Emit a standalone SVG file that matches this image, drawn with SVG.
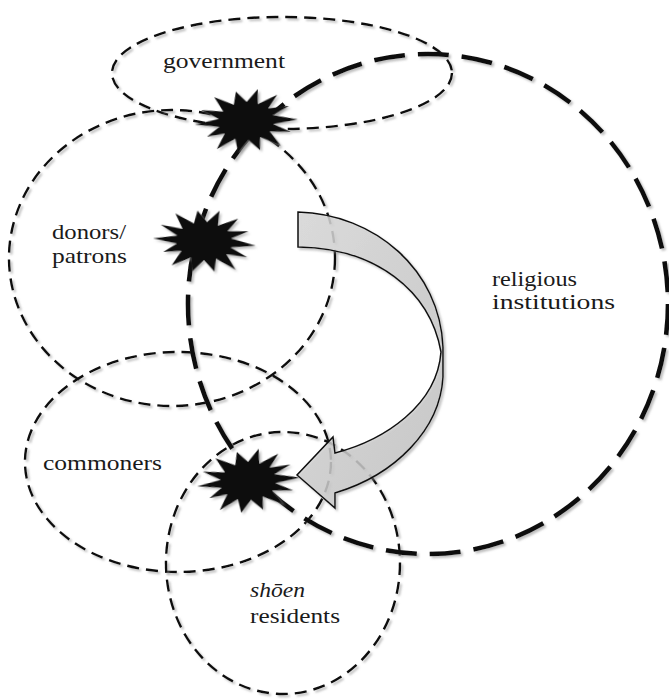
<svg xmlns="http://www.w3.org/2000/svg" width="669" height="699" viewBox="0 0 669 699">
<style>
.thin{fill:none;stroke:#111;stroke-width:2.4;stroke-dasharray:12 7;filter:url(#sh)}
.thick{fill:none;stroke:#111;stroke-width:4.6;stroke-dasharray:31 13;filter:url(#sh)}
.lbl{font-family:"Liberation Serif","Times New Roman",serif;font-size:22px;fill:#1a1a1a}
.star{fill:#111;filter:url(#sh)}
</style>
<defs>
<filter id="sh" x="-10%" y="-10%" width="120%" height="120%">
<feDropShadow dx="2" dy="2" stdDeviation="0.8" flood-color="#888" flood-opacity="0.55"/>
</filter>
<linearGradient id="ag" x1="0" y1="0" x2="1" y2="1">
<stop offset="0" stop-color="#dcdcdc"/>
<stop offset="1" stop-color="#c4c4c4"/>
</linearGradient>
<polygon id="st" points="52,2 27,5 44,14 23,12 33,27 13,17 12,30 1,19 -10,31 -12,17 -31,26 -22,11 -40,13 -27,4 -51,0 -27,-4 -44,-14 -22,-11 -30,-26 -11,-17 -8,-30 2,-19 14,-31 13,-16 33,-24 23,-11 44,-12 27,-4"/>
</defs>
<rect width="669" height="699" fill="#fff"/>
<g id="government">
<ellipse class="thin" cx="282" cy="73" rx="170" ry="56"/>
<text class="lbl" x="163" y="68" textLength="122" lengthAdjust="spacingAndGlyphs">government</text>
</g>
<g id="donors">
<ellipse class="thin" cx="172" cy="258" rx="163" ry="148"/>
<text class="lbl" x="52" y="239" textLength="74" lengthAdjust="spacingAndGlyphs">donors/</text>
<text class="lbl" x="52" y="263" textLength="75" lengthAdjust="spacingAndGlyphs">patrons</text>
</g>
<g id="commoners">
<ellipse class="thin" cx="178" cy="462" rx="153" ry="110"/>
<text class="lbl" x="43" y="470" textLength="119" lengthAdjust="spacingAndGlyphs">commoners</text>
</g>
<g id="shoen">
<ellipse class="thin" cx="283" cy="563" rx="117" ry="131"/>
<text class="lbl" x="250" y="597" font-style="italic" textLength="55" lengthAdjust="spacingAndGlyphs">shōen</text>
<text class="lbl" x="250" y="623" textLength="90" lengthAdjust="spacingAndGlyphs">residents</text>
</g>
<g id="religious">
<ellipse class="thick" cx="428" cy="304" rx="240" ry="250"/>
<text class="lbl" x="492" y="286" textLength="85" lengthAdjust="spacingAndGlyphs">religious</text>
<text class="lbl" x="492" y="309" textLength="123" lengthAdjust="spacingAndGlyphs">institutions</text>
</g>
<g id="connectors">
<path d="M298,212 C375,214 440,270 443,347 L443,377 C440,430 395,475 335,493 L335,508 L297,475 L333,437 L335,453 C385,440 437,405 441,352 C430,290 375,248 298,247 Z" fill="url(#ag)" fill-opacity="0.78" stroke="#111" stroke-width="1.5" stroke-linejoin="miter" filter="url(#sh)"/>
</g>
<g id="junction-top"><use href="#st" class="star" transform="translate(246,121) rotate(-4)"/></g>
<g id="junction-middle"><use href="#st" class="star" transform="translate(204,241) rotate(3)"/></g>
<g id="junction-bottom"><use href="#st" class="star" transform="translate(248,481) rotate(-6)"/></g>
</svg>
